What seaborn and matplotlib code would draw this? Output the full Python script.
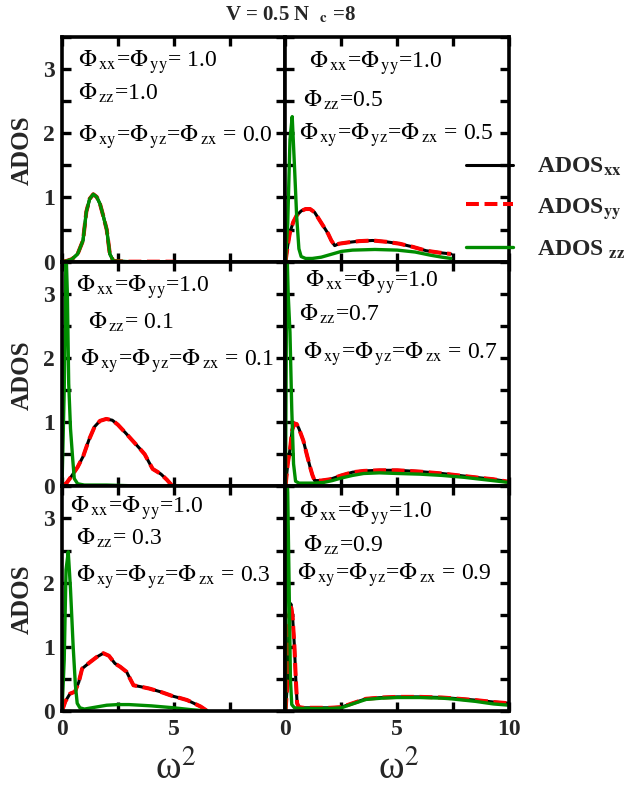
import numpy as np
import pandas as pd
import matplotlib
matplotlib.use("Agg")
import matplotlib.pyplot as plt
import seaborn as sns

# ---------------- data: ADOS vs omega^2 for six coupling sets ----------------
# panel 1: phi_zz = 1.0, off-diagonal 0.0 (all three components coincide)
w_a = [0, 0.2, 0.45, 0.7, 0.94, 1.09, 1.24, 1.4, 1.55, 1.7, 1.84, 2.0, 2.14, 2.3, 3.0, 4.0, 5.0]
xx_a = [0, 0.01, 0.04, 0.12, 0.33, 0.78, 0.98, 1.05, 1.01, 0.9, 0.72, 0.5, 0.12, 0.01, 0.0, 0.0, 0.0]
wz_a = w_a
zz_a = xx_a

# panel 2: phi_zz = 0.5, off-diagonal 0.5
w_b = [0, 0.1, 0.2, 0.35, 0.5, 0.7, 0.9, 1.1, 1.3, 1.5, 1.7, 1.9, 2.05, 2.2, 2.4, 2.8,
       3.3, 3.9, 4.5, 5.1, 5.7, 6.3, 6.9, 7.4]
xx_b = [0, 0.25, 0.46, 0.62, 0.72, 0.79, 0.82, 0.82, 0.77, 0.66, 0.55, 0.44, 0.33, 0.25,
        0.28, 0.30, 0.32, 0.33, 0.31, 0.28, 0.23, 0.17, 0.14, 0.12]
wz_b = [0, 0.1, 0.2, 0.3, 0.4, 0.5, 0.6, 0.7, 0.9, 1.2, 1.6, 2.0, 2.5, 3.0, 4.0, 5.0,
        5.8, 6.5, 7.0, 7.4]
zz_b = [0, 0.6, 1.9, 2.26, 1.5, 0.7, 0.2, 0.08, 0.05, 0.05, 0.07, 0.11, 0.16, 0.18, 0.19,
        0.18, 0.15, 0.10, 0.07, 0.05]

# panel 3: phi_zz = 0.1, off-diagonal 0.1
w_c = [0, 0.2, 0.43, 0.7, 0.95, 1.2, 1.46, 1.7, 1.98, 2.25, 2.5, 2.85, 3.24, 3.5, 3.7,
       3.9, 4.06, 4.25, 4.43, 4.7, 4.95]
xx_c = [0, 0.05, 0.16, 0.3, 0.47, 0.72, 0.93, 1.02, 1.05, 1.03, 0.96, 0.83, 0.68, 0.58,
        0.5, 0.37, 0.27, 0.23, 0.19, 0.1, 0.0]
wz_c = [0, 0.1, 0.18, 0.24, 0.3, 0.38, 0.48, 0.55, 0.7, 1.0, 2.0, 3.0, 4.0, 5.0]
zz_c = [0, 1.5, 3.7, 3.0, 1.6, 0.9, 0.42, 0.12, 0.04, 0.02, 0.02, 0.01, 0.01, 0.0]

# panel 4: phi_zz = 0.7, off-diagonal 0.7
w_d = [0, 0.1, 0.21, 0.3, 0.4, 0.5, 0.6, 0.8, 0.95, 1.1, 1.2, 1.3, 1.6, 2.0, 2.5, 3.0,
       3.5, 4.2, 5.0, 6.0, 7.0, 7.5, 8.5, 9.3, 10.0]
xx_d = [0, 0.35, 0.6, 0.88, 0.98, 0.97, 0.9, 0.71, 0.5, 0.3, 0.18, 0.09, 0.09, 0.11, 0.17,
        0.22, 0.24, 0.25, 0.25, 0.23, 0.2, 0.18, 0.14, 0.11, 0.07]
wz_d = [0, 0.06, 0.12, 0.2, 0.28, 0.36, 0.45, 0.6, 0.9, 1.3, 1.7, 2.1, 2.5, 3.0, 3.5, 4.2,
        5.0, 6.0, 7.0, 8.0, 9.0, 10.0]
zz_d = [0, 3.8, 3.0, 2.4, 1.2, 0.35, 0.08, 0.05, 0.05, 0.05, 0.06, 0.09, 0.13, 0.17, 0.2,
        0.21, 0.2, 0.19, 0.17, 0.14, 0.1, 0.06]

# panel 5: phi_zz = 0.3, off-diagonal 0.3
w_e = [0, 0.15, 0.36, 0.58, 0.75, 0.9, 1.25, 1.55, 1.85, 2.1, 2.37, 2.6, 2.89, 3.05, 3.2,
       3.5, 3.9, 4.4, 4.97, 5.3, 5.6, 5.9, 6.2, 6.5]
xx_e = [0, 0.15, 0.27, 0.3, 0.45, 0.66, 0.76, 0.84, 0.9, 0.86, 0.74, 0.69, 0.61, 0.5, 0.4,
        0.38, 0.35, 0.3, 0.23, 0.2, 0.17, 0.12, 0.07, 0.0]
wz_e = [0, 0.1, 0.18, 0.28, 0.38, 0.5, 0.6, 0.68, 0.8, 1.0, 1.5, 2.0, 2.5, 3.0, 4.0, 5.0,
        5.8, 6.5]
zz_e = [0, 0.8, 2.2, 2.48, 1.9, 1.0, 0.4, 0.12, 0.05, 0.03, 0.06, 0.09, 0.1, 0.1, 0.08,
        0.05, 0.02, 0.0]

# panel 6: phi_zz = 0.9, off-diagonal 0.9
w_f = [0, 0.1, 0.17, 0.24, 0.32, 0.4, 0.46, 0.52, 0.6, 0.8, 1.0, 1.5, 2.0, 2.5, 3.0, 3.6,
       4.3, 5.0, 6.0, 7.0, 7.4, 8.5, 9.3, 10.0]
xx_f = [0, 0.5, 1.5, 1.67, 1.45, 1.0, 0.5, 0.12, 0.06, 0.05, 0.05, 0.05, 0.05, 0.06, 0.12,
        0.19, 0.21, 0.22, 0.22, 0.21, 0.2, 0.17, 0.14, 0.12]
wz_f = [0, 0.05, 0.1, 0.16, 0.22, 0.28, 0.4, 0.7, 1.0, 1.5, 2.0, 2.5, 3.0, 3.6, 4.3, 5.0,
        6.0, 7.0, 7.4, 8.5, 9.3, 10.0]
zz_f = [0, 3.8, 3.4, 2.0, 0.5, 0.1, 0.05, 0.04, 0.04, 0.04, 0.04, 0.05, 0.11, 0.18, 0.2,
        0.21, 0.21, 0.2, 0.19, 0.15, 0.11, 0.09]

panel_labels = [
    [r"$\Phi_{\,\rm xx}$=$\Phi_{\,\rm yy}$= 1.0", r"$\Phi_{\,\rm zz}$=1.0",
     r"$\Phi_{\,\rm xy}$=$\Phi_{\,\rm yz}$=$\Phi_{\,\rm zx}$ = 0.0"],
    [r"$\Phi_{\,\rm xx}$=$\Phi_{\,\rm yy}$=1.0", r"$\Phi_{\,\rm zz}$=0.5",
     r"$\Phi_{\,\rm xy}$=$\Phi_{\,\rm yz}$=$\Phi_{\,\rm zx}$ = 0.5"],
    [r"$\Phi_{\,\rm xx}$=$\Phi_{\,\rm yy}$=1.0", r"$\Phi_{\,\rm zz}$= 0.1",
     r"$\Phi_{\,\rm xy}$=$\Phi_{\,\rm yz}$=$\Phi_{\,\rm zx}$ = 0.1"],
    [r"$\Phi_{\,\rm xx}$=$\Phi_{\,\rm yy}$=1.0", r"$\Phi_{\,\rm zz}$=0.7",
     r"$\Phi_{\,\rm xy}$=$\Phi_{\,\rm yz}$=$\Phi_{\,\rm zx}$ = 0.7"],
    [r"$\Phi_{\,\rm xx}$=$\Phi_{\,\rm yy}$=1.0", r"$\Phi_{\,\rm zz}$= 0.3",
     r"$\Phi_{\,\rm xy}$=$\Phi_{\,\rm yz}$=$\Phi_{\,\rm zx}$ = 0.3"],
    [r"$\Phi_{\,\rm xx}$=$\Phi_{\,\rm yy}$=1.0", r"$\Phi_{\,\rm zz}$=0.9",
     r"$\Phi_{\,\rm xy}$=$\Phi_{\,\rm yz}$=$\Phi_{\,\rm zx}$ = 0.9"],
]
series_names = [r"ADOS$_{\mathbf{xx}}$", r"ADOS$_{\mathbf{yy}}$", r"ADOS $_{\mathbf{zz}}$"]
x_ticks = [0, 2.5, 5, 7.5, 10]
y_ticks = [0, 0.5, 1, 1.5, 2, 2.5, 3, 3.5]
y_ticklabels = ["0", "", "1", "", "2", "", "3", ""]

panels = [
    (w_a, xx_a, wz_a, zz_a),
    (w_b, xx_b, wz_b, zz_b),
    (w_c, xx_c, wz_c, zz_c),
    (w_d, xx_d, wz_d, zz_d),
    (w_e, xx_e, wz_e, zz_e),
    (w_f, xx_f, wz_f, zz_f),
]

# ---------------- styling ----------------
sns.set_theme(style="white")
plt.rcParams["font.family"] = ["Liberation Serif", "DejaVu Serif"]
plt.rcParams["mathtext.fontset"] = "stix"
plt.rcParams["axes.linewidth"] = 2.6

W, H = 627, 790
fig, axes = plt.subplots(3, 2, figsize=(W / 100, H / 100), dpi=100)
fig.subplots_adjust(left=62 / W, right=509 / W, top=1 - 37 / H, bottom=1 - 711 / H,
                    wspace=0, hspace=0)

# text anchor positions inside each panel (pixels from the panel's top-left corner)
text_pos = [
    [(16, 30), (16, 63), (16, 105)],
    [(24, 31), (18, 70), (14, 103)],
    [(14, 30), (26, 67), (18, 104)],
    [(20, 25), (14, 59), (18, 97)],
    [(8, 26), (14, 58), (14, 95)],
    [(14, 31), (18, 65), (12, 93)],
]
PW = 447 / 2
PH = 674 / 3

for i, ax in enumerate(axes.flat):
    w, xx, wz, zz = panels[i]
    df = pd.DataFrame({"w": w, "xx": xx, "yy": xx})
    dz = pd.DataFrame({"w": wz, "zz": zz})
    sns.lineplot(data=df, x="w", y="xx", ax=ax, color="black", lw=2.2,
                 estimator=None, sort=False, label=series_names[0])
    sns.lineplot(data=df, x="w", y="yy", ax=ax, color="#ff0000", lw=2.9,
                 estimator=None, sort=False, label=series_names[1],
                 linestyle=(0, (3.2, 1.4)))
    sns.lineplot(data=dz, x="w", y="zz", ax=ax, color="#008c00", lw=2.4,
                 estimator=None, sort=False, label=series_names[2])
    ax.set_xlim(0, 10)
    ax.set_ylim(0, 3.5)
    ax.set_xlabel("")
    ax.set_ylabel("")
    ax.set_xticks(x_ticks)
    ax.set_yticks(y_ticks)
    row, col = divmod(i, 2)
    if col == 0:
        ax.set_yticklabels(y_ticklabels, fontweight="bold", fontsize=17)
    else:
        ax.set_yticklabels([])
    if row == 2:
        xl = ["0", "", "5", "", ""] if col == 0 else ["0", "", "5", "", "10"]
        ax.set_xticklabels(xl, fontweight="bold", fontsize=17)
    else:
        ax.set_xticklabels([])
    ax.tick_params(axis="both", which="major", direction="in", length=6.5, width=2.4,
                   top=True, right=True, bottom=True, left=True, color="black")
    ax.tick_params(axis="y", pad=5)
    ax.tick_params(axis="x", pad=6)
    for s in ax.spines.values():
        s.set_color("black")
        s.set_linewidth(2.6)
    for (dx, dy), txt in zip(text_pos[i], panel_labels[i]):
        ax.text(dx / PW, 1 - dy / PH, txt, transform=ax.transAxes, fontsize=17,
                ha="left", va="baseline", color="black")
    if ax.get_legend() is not None:
        handles, labels = ax.get_legend_handles_labels()
        ax.get_legend().remove()

fig.legend(handles, labels, loc="upper left", bbox_to_anchor=(466 / W, 1 - 156 / H),
           frameon=False, prop={"weight": "bold", "size": 17}, handlelength=2.0,
           handletextpad=1.0, labelspacing=0.75, borderpad=0, borderaxespad=0)

for yc in (150, 375, 599):
    fig.text(22 / W, 1 - yc / H, "ADOS", rotation=90, ha="center", va="center",
             fontsize=18, fontweight="bold")
for xc in (176, 399):
    fig.text(xc / W, 1 - 769 / H, "ω$^{2}$", ha="center", va="center", fontsize=28)

fig.text(290 / W, 1 - 20 / H, r"V = 0.5 N  $_{\mathbf{c}}$ =8", ha="center", va="baseline",
         fontsize=15, fontweight="bold")

fig.savefig("out.png", dpi=100)
